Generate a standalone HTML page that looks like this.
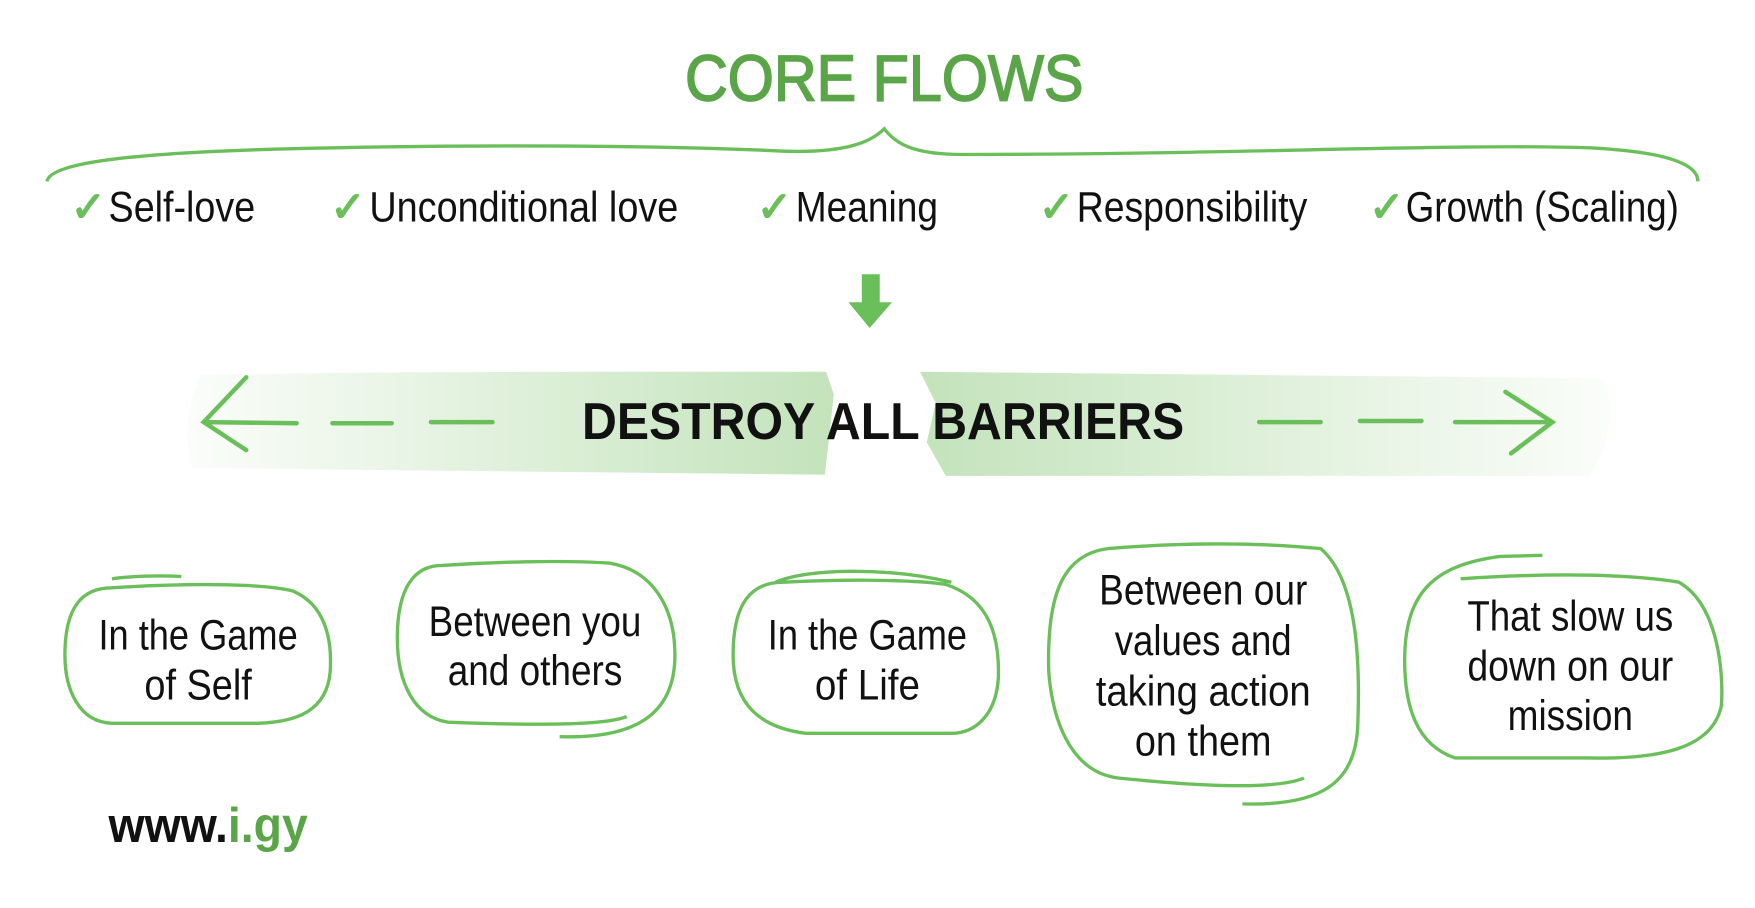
<!DOCTYPE html>
<html><head><meta charset="utf-8"><style>html,body{margin:0;padding:0;background:#fff;overflow:hidden}svg{display:block}</style></head>
<body>
<svg width="1755" height="908" viewBox="0 0 1568 811" preserveAspectRatio="none" xmlns="http://www.w3.org/2000/svg" font-family="Liberation Sans, sans-serif">
<defs>
<linearGradient id="gl" x1="0" x2="1" y1="0" y2="0"><stop offset="0" stop-color="#fbfdfa"/><stop offset="1" stop-color="#c3e3bb"/></linearGradient>
<linearGradient id="gr" x1="0" x2="1" y1="0" y2="0"><stop offset="0" stop-color="#c3e3bb"/><stop offset="1" stop-color="#fbfdfa"/></linearGradient>
</defs>
<text x="790" y="90" text-anchor="middle" font-size="58" fill="#5aa548" stroke="#5aa548" stroke-width="1.5" textLength="356" lengthAdjust="spacingAndGlyphs">CORE FLOWS</text>
<path d="M42,162 C45,145 120,135 300,132 C500,128 640,132 700,135 C760,137 780,125 790,115 C800,128 815,138 860,138 C1100,138 1300,128 1420,132 C1500,136 1517,150 1517,162" fill="none" stroke="#6abf5a" stroke-width="3"/>
<g font-size="38" fill="#111">
<text x="63" y="198" fill="#6abf5a" font-size="38" font-weight="bold">✓</text><text x="97" y="198" textLength="131" lengthAdjust="spacingAndGlyphs">Self-love</text>
<text x="295" y="198" fill="#6abf5a" font-size="38" font-weight="bold">✓</text><text x="330" y="198" textLength="276" lengthAdjust="spacingAndGlyphs">Unconditional love</text>
<text x="676" y="198" fill="#6abf5a" font-size="38" font-weight="bold">✓</text><text x="711" y="198" textLength="127" lengthAdjust="spacingAndGlyphs">Meaning</text>
<text x="928" y="198" fill="#6abf5a" font-size="38" font-weight="bold">✓</text><text x="962" y="198" textLength="206" lengthAdjust="spacingAndGlyphs">Responsibility</text>
<text x="1223" y="198" fill="#6abf5a" font-size="38" font-weight="bold">✓</text><text x="1256" y="198" textLength="244" lengthAdjust="spacingAndGlyphs">Growth (Scaling)</text>
</g>
<path d="M770,245 H786 V270 H797 L777,293 L758,270 H770 Z" fill="#6abf5a"/>
<path d="M180,335 C300,332 500,332 738,332 L745,352 L737,424 L172,418 C165,400 165,360 180,335 Z" fill="url(#gl)"/>
<path d="M822,332 L1430,338 C1445,345 1440,400 1420,425 L845,425 L828,395 L836,360 Z" fill="url(#gr)"/>
<text x="520" y="392" font-size="46" font-weight="bold" fill="#111" textLength="538" lengthAdjust="spacingAndGlyphs">DESTROY ALL BARRIERS</text>
<g stroke="#6abf5a" stroke-width="4" stroke-linecap="round" fill="none">
<path d="M220,337 L182,377 L220,402 M182,377 L265,378 M297,378 H350 M385,377 H440"/>
<path d="M1125,377 H1180 M1215,376 H1270 M1300,377 H1385 M1345,350 L1387,377 L1350,405"/>
</g>
<g stroke="#6abf5a" stroke-width="3" fill="none">
<path d="M100,525 C180,520 240,522 262,528 C290,540 297,570 295,600 C292,635 265,645 230,646 L100,646 C70,645 58,615 58,585 C58,540 75,525 100,525 Z M100,517 C120,514 150,514 162,515"/>
<path d="M500,658 C565,660 603,640 603,585 C603,545 585,510 545,503 C500,500 440,502 395,505 C370,505 355,525 355,570 C355,610 370,640 400,645 C480,648 540,648 560,640"/>
<path d="M700,520 C760,517 820,518 845,522 C885,535 893,570 892,605 C890,640 870,655 850,655 L720,655 C680,650 655,630 655,585 C655,540 670,520 700,520 Z M693,520 C720,508 790,506 850,520"/>
<path d="M1110,718 C1180,720 1210,700 1213,650 C1215,600 1215,520 1180,490 C1120,484 1050,485 990,490 C950,495 935,530 937,600 C940,640 955,690 1000,695 C1080,703 1140,705 1165,695"/>
<path d="M1305,517 C1380,512 1450,512 1500,520 C1535,540 1540,600 1538,630 C1530,670 1480,678 1420,677 L1300,677 C1265,665 1255,630 1255,590 C1255,530 1280,505 1340,497 L1378,496"/>
</g>
<g font-size="38" fill="#111" text-anchor="middle">
<text x="177" y="580" textLength="178" lengthAdjust="spacingAndGlyphs">In the Game</text>
<text x="177" y="625" textLength="96" lengthAdjust="spacingAndGlyphs">of Self</text>
<text x="478" y="568" textLength="190" lengthAdjust="spacingAndGlyphs">Between you</text>
<text x="478" y="612" textLength="156" lengthAdjust="spacingAndGlyphs">and others</text>
<text x="775" y="580" textLength="178" lengthAdjust="spacingAndGlyphs">In the Game</text>
<text x="775" y="625" textLength="94" lengthAdjust="spacingAndGlyphs">of Life</text>
<text x="1075" y="540" textLength="186" lengthAdjust="spacingAndGlyphs">Between our</text>
<text x="1075" y="585" textLength="158" lengthAdjust="spacingAndGlyphs">values and</text>
<text x="1075" y="630" textLength="192" lengthAdjust="spacingAndGlyphs">taking action</text>
<text x="1075" y="675" textLength="122" lengthAdjust="spacingAndGlyphs">on them</text>
<text x="1403" y="563" textLength="184" lengthAdjust="spacingAndGlyphs">That slow us</text>
<text x="1403" y="608" textLength="184" lengthAdjust="spacingAndGlyphs">down on our</text>
<text x="1403" y="652" textLength="112" lengthAdjust="spacingAndGlyphs">mission</text>
</g>
<text x="97" y="752" font-size="44" font-weight="bold" textLength="178" lengthAdjust="spacingAndGlyphs"><tspan fill="#111">www.</tspan><tspan fill="#5aa548">i.gy</tspan></text>
</svg>
</body></html>
